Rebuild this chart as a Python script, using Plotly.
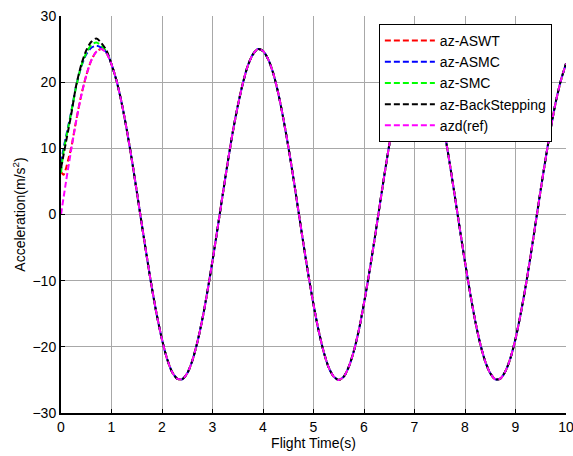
import plotly.graph_objects as go

# Reference acceleration azd(ref), sampled every 0.1 s over 0..10 s
t_ref = [round(0.1 * i, 1) for i in range(101)]
azd_ref = [
    0.0, 5.0, 9.7, 14.1, 17.9, 21.0, 23.3, 24.6, 25.0, 24.4,
    22.7, 20.2, 16.9, 12.9, 8.4, 3.5, -1.5, -6.4, -11.1, -15.3,
    -18.9, -21.8, -23.8, -24.8, -24.9, -24.0, -22.1, -19.3, -15.8, -11.6,
    -7.0, -2.1, 2.9, 7.8, 12.4, 16.4, 19.8, 22.5, 24.2, 25.0,
    24.7, 23.5, 21.4, 18.4, 14.6, 10.3, 5.6, 0.6, -4.4, -9.2,
    -13.6, -17.5, -20.7, -23.1, -24.5, -25.0, -24.5, -23.0, -20.6, -17.4,
    -13.4, -9.0, -4.2, 0.8, 5.8, 10.5, 14.8, 18.5, 21.5, 23.6,
    24.8, 25.0, 24.1, 22.3, 19.5, 16.3, 12.2, 7.6, 2.7, -2.3,
    -7.2, -11.8, -16.0, -19.5, -22.2, -24.0, -24.9, -24.8, -23.7, -21.7,
    -18.8, -15.1, -10.9, -6.2, -1.2, 3.8, 8.6, 13.1, 17.1, 20.3,
    22.8,
]

# Start-up transient of each controller (first 0.9 s); afterwards they track azd(ref)
t_start = [0.0, 0.05, 0.1, 0.15, 0.2, 0.3, 0.4, 0.5, 0.6, 0.7, 0.8, 0.9]
aswt_start = [6.5, 6.0, 7.0, 8.5, 10.0, 14.2, 18.0, 21.0, 23.3, 24.6, 25.0, 24.4]
asmc_start = [7.8, 10.0, 11.8, 13.6, 15.4, 19.4, 22.3, 24.2, 25.2, 25.5, 25.2, 24.5]
smc_start = [6.3, 9.5, 11.5, 13.4, 15.3, 19.3, 22.4, 24.4, 25.6, 26.0, 25.5, 24.6]
bs_start = [7.0, 9.0, 11.0, 13.0, 15.0, 19.5, 22.6, 24.8, 26.1, 26.6, 25.9, 24.8]

tail_idx = 10  # t = 1.0 s onwards
t_track = t_start + t_ref[tail_idx:]
az_aswt = aswt_start + azd_ref[tail_idx:]
az_asmc = asmc_start + azd_ref[tail_idx:]
az_smc = smc_start + azd_ref[tail_idx:]
az_bs = bs_start + azd_ref[tail_idx:]

x_ticks = list(range(0, 11))
y_ticks = [-30, -20, -10, 0, 10, 20, 30]

FONT = "Arial, Liberation Sans, sans-serif"
DASH = "6px,3px"

series = [
    ("az-ASWT", t_track, az_aswt, "#ff0000"),
    ("az-ASMC", t_track, az_asmc, "#0000ff"),
    ("az-SMC", t_track, az_smc, "#00ff00"),
    ("az-BackStepping", t_track, az_bs, "#000000"),
    ("azd(ref)", t_ref, azd_ref, "#ff00ff"),
]

fig = go.Figure()
for name, xs, ys, color in series:
    fig.add_trace(go.Scatter(
        x=xs, y=ys, name=name, mode="lines",
        line=dict(color=color, width=2, dash=DASH, shape="spline", smoothing=0.8),
    ))

axis_common = dict(
    showline=True, linecolor="black", linewidth=2,
    ticks="inside", ticklen=4, tickcolor="black", tickwidth=1,
    showgrid=True, gridcolor="#a8a8a8", gridwidth=1,
    zeroline=False, automargin=False,
    tickfont=dict(family=FONT, size=14, color="black"),
    ticklabeloverflow="allow",
)

fig.update_layout(
    width=573, height=456,
    margin=dict(l=61, r=7, t=16, b=43),
    paper_bgcolor="white", plot_bgcolor="white",
    font=dict(family=FONT, size=14, color="black"),
    xaxis=dict(
        range=[0, 10], tickvals=x_ticks,
        title=dict(text="Flight Time(s)", font=dict(family=FONT, size=14), standoff=2),
        **axis_common,
    ),
    yaxis=dict(
        range=[-30, 30], tickvals=y_ticks,
        title=dict(text="Acceleration(m/s<sup>2</sup>)", font=dict(family=FONT, size=14), standoff=4),
        **axis_common,
    ),
    # thin top / right frame with mirrored inside ticks
    xaxis2=dict(
        overlaying="x", side="top", anchor="y", range=[0, 10], tickvals=x_ticks,
        showline=True, linecolor="black", linewidth=1,
        ticks="inside", ticklen=4, tickcolor="black", automargin=False,
        showticklabels=False, showgrid=False, zeroline=False,
    ),
    yaxis2=dict(
        overlaying="y", side="right", anchor="x", range=[-30, 30], tickvals=y_ticks,
        showline=True, linecolor="black", linewidth=1,
        ticks="inside", ticklen=4, tickcolor="black", automargin=False,
        showticklabels=False, showgrid=False, zeroline=False,
    ),
    legend=dict(
        x=0.972, y=0.98, xanchor="right", yanchor="top",
        bgcolor="white", bordercolor="black", borderwidth=1,
        font=dict(family=FONT, size=14, color="black"),
        tracegroupgap=0, itemwidth=50,
    ),
    showlegend=True,
)

fig.write_html("out.html")
